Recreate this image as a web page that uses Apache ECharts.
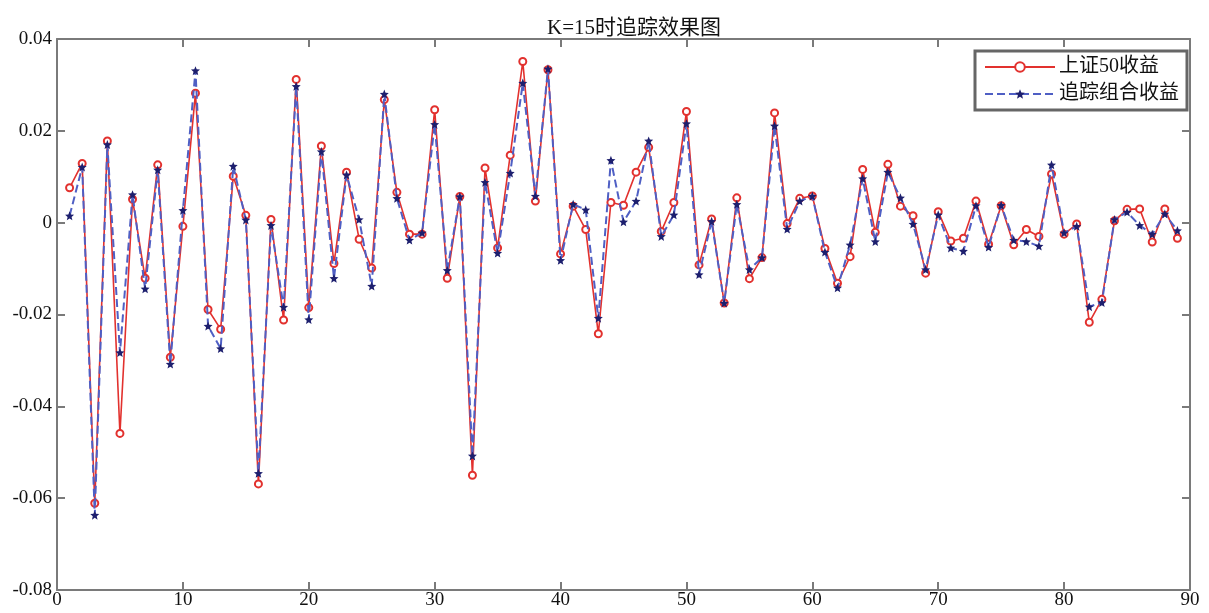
<!DOCTYPE html>
<html>
<head>
<meta charset="utf-8">
<script src="https://cdn.jsdelivr.net/npm/echarts@6/dist/echarts.min.js"></script>
<style>html,body{margin:0;padding:0;background:#fff;}#c{width:1209px;height:613px;}</style>
</head>
<body>
<div id="c"></div>
<script>
var days = [1,2,3,4,5,6,7,8,9,10,11,12,13,14,15,16,17,18,19,20,21,22,23,24,25,26,27,28,29,30,
31,32,33,34,35,36,37,38,39,40,41,42,43,44,45,46,47,48,49,50,51,52,53,54,55,56,57,58,59,60,
61,62,63,64,65,66,67,68,69,70,71,72,73,74,75,76,77,78,79,80,81,82,83,84,85,86,87,88,89];

var sz50 = [0.0076,0.0129,-0.0611,0.0178,-0.0459,0.0051,-0.0121,0.0126,-0.0293,-0.0008,
0.0282,-0.0189,-0.0232,0.0101,0.0016,-0.0569,0.0007,-0.0212,0.0312,-0.0185,
0.0167,-0.0089,0.0110,-0.0036,-0.0099,0.0268,0.0066,-0.0025,-0.0025,0.0246,
-0.0121,0.0057,-0.0550,0.0119,-0.0055,0.0147,0.0351,0.0047,0.0333,-0.0068,
0.0036,-0.0015,-0.0242,0.0044,0.0038,0.0110,0.0164,-0.0019,0.0044,0.0242,
-0.0092,0.0008,-0.0175,0.0054,-0.0122,-0.0076,0.0239,-0.0002,0.0053,0.0058,
-0.0056,-0.0132,-0.0074,0.0116,-0.0021,0.0127,0.0036,0.0015,-0.0110,0.0024,
-0.0040,-0.0034,0.0047,-0.0047,0.0037,-0.0048,-0.0015,-0.0030,0.0106,-0.0025,
-0.0003,-0.0217,-0.0167,0.0004,0.0029,0.0030,-0.0042,0.0030,-0.0034];

var track = [0.0015,0.0121,-0.0637,0.0170,-0.0283,0.0061,-0.0144,0.0115,-0.0308,0.0027,
0.0331,-0.0225,-0.0274,0.0123,0.0006,-0.0546,-0.0006,-0.0184,0.0297,-0.0211,
0.0155,-0.0121,0.0104,0.0007,-0.0138,0.0280,0.0053,-0.0038,-0.0022,0.0214,
-0.0104,0.0057,-0.0508,0.0088,-0.0066,0.0108,0.0304,0.0058,0.0335,-0.0082,
0.0040,0.0028,-0.0208,0.0136,0.0002,0.0047,0.0178,-0.0030,0.0017,0.0216,
-0.0113,0.0003,-0.0175,0.0040,-0.0102,-0.0076,0.0211,-0.0014,0.0047,0.0058,
-0.0064,-0.0142,-0.0048,0.0096,-0.0041,0.0110,0.0054,-0.0003,-0.0102,0.0017,
-0.0055,-0.0062,0.0037,-0.0053,0.0038,-0.0038,-0.0041,-0.0051,0.0126,-0.0022,
-0.0008,-0.0183,-0.0174,0.0007,0.0023,-0.0006,-0.0025,0.0019,-0.0017];

var seriesNames = ['上证50收益', '追踪组合收益'];
var titleText = 'K=15时追踪效果图';

function pairs(vals){ return vals.map(function(v,i){ return [days[i], v]; }); }

var serif = "'Liberation Serif','Noto Sans CJK SC',serif";
var axisColor = '#7a7a7a';
var star = 'path://M0,-10 L2.6,-3.6 L9.5,-3.1 L4.2,1.4 L5.9,8.1 L0,4.4 L-5.9,8.1 L-4.2,1.4 L-9.5,-3.1 L-2.6,-3.6 Z';

function axisBase(extra){
  var o = {
    type: 'value',
    axisLine: {show: true, onZero: false, lineStyle: {color: axisColor, width: 2}},
    axisTick: {show: true, inside: true, length: 8, lineStyle: {color: axisColor, width: 2}},
    splitLine: {show: false}
  };
  for (var k in extra) o[k] = extra[k];
  return o;
}

var chart = echarts.init(document.getElementById('c'), null, {renderer:'canvas'});
chart.setOption({
  backgroundColor: '#ffffff',
  animation: false,
  title: {
    text: titleText, left: 542, top: 13,
    textStyle: {fontFamily: serif, fontSize: 21, fontWeight: 'normal', color: '#111'}
  },
  legend: {
    orient: 'vertical', right: 22, top: 51,
    itemWidth: 70, itemHeight: 12, itemGap: 7,
    padding: [6, 8, 6, 9],
    borderColor: '#666', borderWidth: 3, backgroundColor: '#fff',
    textStyle: {fontFamily: serif, fontSize: 20, color: '#111', padding: [0,0,0,-1]},
    data: seriesNames
  },
  grid: {left: 57, right: 19, top: 39, bottom: 23, containLabel: false},
  xAxis: [
    axisBase({min: 0, max: 90, interval: 10, position: 'bottom',
      axisLabel: {fontFamily: serif, fontSize: 19, color: '#111', margin: 1}}),
    axisBase({min: 0, max: 90, interval: 10, position: 'top', axisLabel: {show: false}})
  ],
  yAxis: [
    axisBase({min: -0.08, max: 0.04, interval: 0.02, position: 'left',
      axisLabel: {fontFamily: serif, fontSize: 19, color: '#111', margin: 5,
        formatter: function(v){ return Math.abs(v) < 1e-9 ? '0' : v.toFixed(2); }}}),
    axisBase({min: -0.08, max: 0.04, interval: 0.02, position: 'right', axisLabel: {show: false}})
  ],
  series: [{
    name: seriesNames[0], type: 'line', data: pairs(sz50),
    symbol: 'emptyCircle', symbolSize: 7, showAllSymbol: true,
    lineStyle: {color: '#e2312e', width: 1.6},
    itemStyle: {color: '#e2312e', borderColor: '#e2312e', borderWidth: 1.2},
    z: 2
  }, {
    name: seriesNames[1], type: 'line', data: pairs(track),
    symbol: star, symbolSize: 9, showAllSymbol: true,
    lineStyle: {color: '#4f5fc4', width: 2, type: [8, 4]},
    itemStyle: {color: '#1d1f6e'},
    z: 3
  }]
});
</script>
</body>
</html>
